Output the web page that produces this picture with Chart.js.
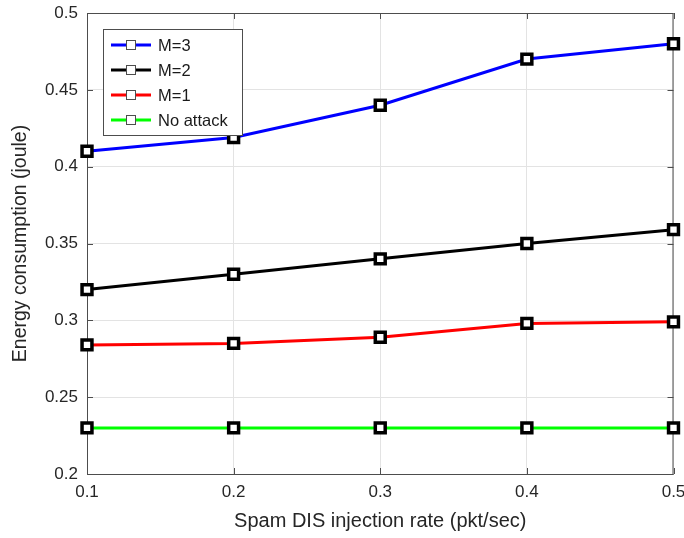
<!DOCTYPE html>
<html>
<head>
<meta charset="utf-8">
<script src="https://cdn.jsdelivr.net/npm/chart.js@4/dist/chart.umd.min.js"></script>
<style>
  html, body { margin: 0; padding: 0; background: #fff; }
  #wrap { width: 684px; height: 538px; }
</style>
</head>
<body>
<div id="wrap"><canvas id="c" width="684" height="538"></canvas></div>
<script>
// Injection rates (pkt/sec)
const rates = [0.1, 0.2, 0.3, 0.4, 0.5];
// Energy consumption (joule) per scenario
const m3 = [0.410, 0.419, 0.440, 0.470, 0.480];
const m2 = [0.320, 0.330, 0.340, 0.350, 0.359];
const m1 = [0.284, 0.285, 0.289, 0.298, 0.299];
const noAttack = [0.230, 0.230, 0.230, 0.230, 0.230];
const seriesNames = ['M=3', 'M=2', 'M=1', 'No attack'];
const seriesColors = ['#0000ff', '#000000', '#ff0000', '#00ff00'];
const xTicks = [0.1, 0.2, 0.3, 0.4, 0.5];
const yTicks = [0.2, 0.25, 0.3, 0.35, 0.4, 0.45, 0.5];

const FONT = 'Liberation Sans, Arial, sans-serif';
const series = [m3, m2, m1, noAttack];

const datasets = series.map((vals, i) => ({
  label: seriesNames[i],
  data: rates.map((x, j) => ({ x: x, y: vals[j] })),
  borderColor: seriesColors[i],
  backgroundColor: seriesColors[i],
  borderWidth: 3,
  pointStyle: 'rect',
  pointRadius: 7,
  pointHoverRadius: 7,
  pointBorderWidth: 3.5,
  pointBackgroundColor: '#ffffff',
  pointBorderColor: '#000000',
  tension: 0,
  clip: false
}));

// Box around the axes, inward ticks on all four sides, and the boxed legend
const framePlugin = {
  id: 'frame',
  beforeDatasetsDraw(chart) {
    const { ctx, chartArea: a, scales } = chart;
    ctx.save();
    ctx.strokeStyle = '#4d4d4d';
    ctx.lineWidth = 1;
    ctx.strokeRect(a.left + 0.5, a.top + 0.5, a.right - a.left - 1, a.bottom - a.top);
    ctx.beginPath();
    xTicks.forEach(v => {
      const px = Math.round(scales.x.getPixelForValue(v)) + 0.5;
      ctx.moveTo(px, a.bottom); ctx.lineTo(px, a.bottom - 6);
      ctx.moveTo(px, a.top); ctx.lineTo(px, a.top + 6);
    });
    yTicks.forEach(v => {
      const py = Math.round(scales.y.getPixelForValue(v)) + 0.5;
      ctx.moveTo(a.left, py); ctx.lineTo(a.left + 6, py);
      ctx.moveTo(a.right, py); ctx.lineTo(a.right - 6, py);
    });
    ctx.stroke();
    ctx.restore();
  },
  afterDraw(chart) {
    const { ctx, chartArea: a } = chart;
    ctx.save();
    const lx = a.left + 16, ly = a.top + 16, lw = 139, lh = 106;
    ctx.fillStyle = '#ffffff';
    ctx.fillRect(lx, ly, lw, lh);
    ctx.strokeStyle = '#4d4d4d';
    ctx.lineWidth = 1;
    ctx.strokeRect(lx + 0.5, ly + 0.5, lw, lh);
    ctx.font = '16.5px ' + FONT;
    ctx.textBaseline = 'middle';
    ctx.textAlign = 'left';
    seriesNames.forEach((name, i) => {
      const cy = ly + 16 + i * 25;
      ctx.strokeStyle = seriesColors[i];
      ctx.lineWidth = 3;
      ctx.beginPath();
      ctx.moveTo(lx + 8, cy); ctx.lineTo(lx + 48, cy);
      ctx.stroke();
      ctx.fillStyle = '#ffffff';
      ctx.fillRect(lx + 23, cy - 5, 10, 10);
      ctx.strokeStyle = '#4d4d4d';
      ctx.lineWidth = 1;
      ctx.strokeRect(lx + 23.5, cy - 4.5, 9, 9);
      ctx.fillStyle = '#1a1a1a';
      ctx.fillText(name, lx + 55, cy + 1);
    });
    ctx.restore();
  }
};

new Chart(document.getElementById('c'), {
  type: 'line',
  data: { datasets: datasets },
  options: {
    responsive: false,
    animation: false,
    devicePixelRatio: 1,
    layout: { padding: { top: 13, right: 10, left: 0, bottom: 0 } },
    plugins: {
      legend: { display: false },
      tooltip: { enabled: false }
    },
    scales: {
      x: {
        type: 'linear',
        min: 0.1, max: 0.5,
        afterBuildTicks(scale) { scale.ticks = xTicks.map(v => ({ value: v })); },
        afterFit(scale) {
          scale.height = 64;
          scale.paddingLeft = 0;
          scale.paddingRight = 0;
        },
        grid: { color: '#e3e3e3', lineWidth: 1, drawTicks: false },
        border: { display: false },
        ticks: {
          color: '#262626',
          font: { family: FONT, size: 17 },
          padding: 8,
          maxRotation: 0,
          callback: v => String(Math.round(v * 10) / 10)
        },
        title: {
          display: true,
          text: 'Spam DIS injection rate (pkt/sec)',
          color: '#262626',
          font: { family: FONT, size: 20 },
          padding: { top: 0, bottom: 5 }
        }
      },
      y: {
        type: 'linear',
        min: 0.2, max: 0.5,
        afterBuildTicks(scale) { scale.ticks = yTicks.map(v => ({ value: v })); },
        afterFit(scale) {
          scale.width = 87;
          scale.paddingTop = 0;
          scale.paddingBottom = 0;
        },
        grid: { color: '#e3e3e3', lineWidth: 1, drawTicks: false },
        border: { display: false },
        ticks: {
          color: '#262626',
          font: { family: FONT, size: 17 },
          padding: 9,
          callback: v => String(Math.round(v * 100) / 100)
        },
        title: {
          display: true,
          text: 'Energy consumption (joule)',
          color: '#262626',
          font: { family: FONT, size: 19.5 },
          padding: { top: 9, bottom: 0 }
        }
      }
    }
  },
  plugins: [framePlugin]
});
</script>
</body>
</html>
